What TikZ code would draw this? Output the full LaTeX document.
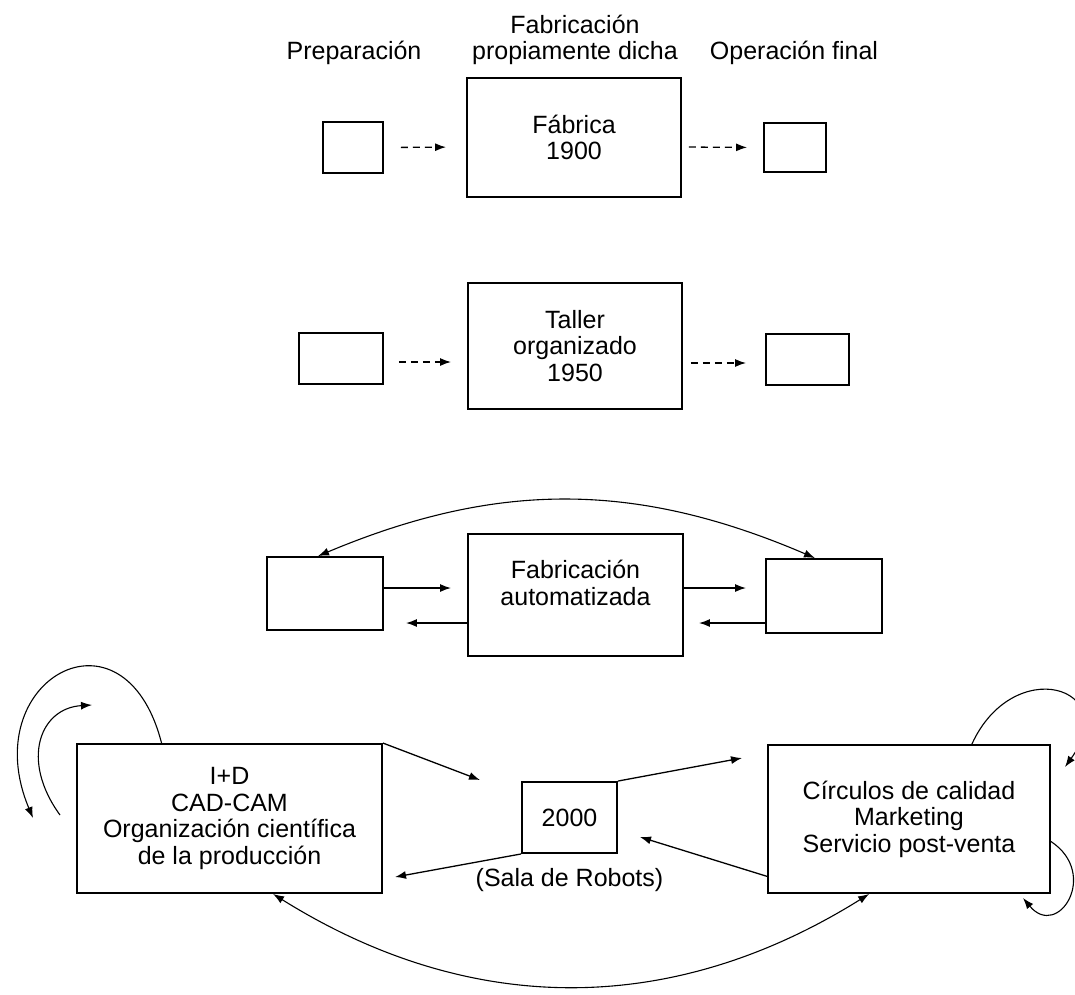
\documentclass[tikz,border=0pt]{standalone}
\usepackage{fontspec}
\setmainfont{Liberation Sans}
\usetikzlibrary{arrows.meta,positioning}

\tikzset{
	box/.style={draw, line width=1.9pt, inner sep=0pt, align=center},
	flow/.style={line width=1.3pt},
	loose/.style={flow, dash pattern=on 7pt off 5pt},
	arc/.style={line width=1.1pt}
}

\begin{document}
\begin{tikzpicture}[x=1pt, y=-1pt, >={Latex[length=11pt,width=8pt]},
	every node/.style={font=\fontsize{25}{26.5}\selectfont}]
	\useasboundingbox (0,0) rectangle (1075,994);

	\node (tprep) at (354,53) {Preparación};
	\node[align=center] (tfab) at (575,40) {Fabricación\\propiamente dicha};
	\node (tfin) at (794,53) {Operación final};

	\node[box, minimum width=60pt, minimum height=51pt] (prep1) at (353,147.5) {};
	\node[box, minimum width=214pt, minimum height=119pt] (f1900) at (574,137.5) {Fábrica\\1900};
	\node[box, minimum width=62pt, minimum height=49pt] (fin1) at (795,147.5) {};

	\node[box, minimum width=84pt, minimum height=51pt] (prep2) at (341,358.5) {};
	\node[box, minimum width=214pt, minimum height=126pt] (t1950) at (575,346) {Taller\\organizado\\1950};
	\node[box, minimum width=83pt, minimum height=51pt] (fin2) at (807.5,359.5) {};

	\node[box, minimum width=116pt, minimum height=73pt] (prep3) at (325,593.5) {};
	\node[box, minimum width=215pt, minimum height=122pt,
		label={[align=center, yshift=12pt]center:{Fabricación\\automatizada}}] (fauto) at (575.5,595) {};
	\node[box, minimum width=116pt, minimum height=74pt] (fin3) at (824,596) {};

	\node[box, minimum width=305pt, minimum height=149pt] (rd) at (229.5,818.5) {I+D\\CAD-CAM\\Organización científica\\de la producción};
	\node[box, minimum width=95pt, minimum height=71pt] (r2000) at (569.5,817.5) {2000};
	\node[inner sep=0pt] (sala) [below=14pt of r2000] {(Sala de Robots)};
	\node[box, minimum width=282pt, minimum height=148pt] (rc) at (909,819) {Círculos de calidad\\Marketing\\Servicio post-venta};

	\coordinate (p1) at (480,780);
	\coordinate (p2) at (742,758);
	\coordinate (p3) at (640,837);
	\coordinate (p4) at (395,877);
	\coordinate (lo) at (33,818);
	\coordinate (li1) at (60,815);
	\coordinate (li2) at (92,705);
	\coordinate (ro) at (1065,767);
	\coordinate (rl) at (1023,898);

	\path[->, loose]
	(prep1.east) edge [shorten <=17pt, shorten >=20pt] ([yshift=-9.5pt]f1900.west)
	([yshift=-9.5pt]f1900.east) edge [shorten <=7pt, shorten >=16pt] (fin1.west)
	([yshift=-3.5pt]prep2.east) edge [shorten <=15pt, shorten >=16pt] ([yshift=-16pt]t1950.west)
	([yshift=-17pt]t1950.east) edge [shorten <=8pt, shorten >=19pt] ([yshift=-3.5pt]fin2.west)
	;

	\path[->, flow]
	([yshift=5.5pt]prep3.east) edge [shorten >=16pt] ([yshift=7pt]fauto.west)
	([yshift=-28pt]fauto.west) edge [shorten >=22pt] ([yshift=-29.5pt]prep3.east)
	([yshift=7pt]fauto.east) edge [shorten >=19pt] ([yshift=8pt]fin3.west)
	([yshift=-27pt]fin3.west) edge [shorten >=15pt] ([yshift=-28pt]fauto.east)
	([xshift=-7pt]prep3.north) edge [<->, arc, bend left=23] ([xshift=-9pt]fin3.north)

	(rd.north east) edge (p1)
	(r2000.north east) edge (p2)
	(rc.202) edge (p3)
	(r2000.south west) edge (p4)
	(rd.-60) edge [<->, arc, bend right=32] (rc.-118)
	;

	\draw[->, arc] (rd.132) .. controls (124,597) and (-25,680) .. (lo);
	\draw[->, arc] (li1) .. controls (20,760) and (40,708) .. (li2);
	\draw[->, arc] (rc.50) .. controls (1013,654) and (1123,686) .. (ro);
	\draw[->, arc] (rc.-9) .. controls (1100,874) and (1058,940) .. (rl);
\end{tikzpicture}
\end{document}
